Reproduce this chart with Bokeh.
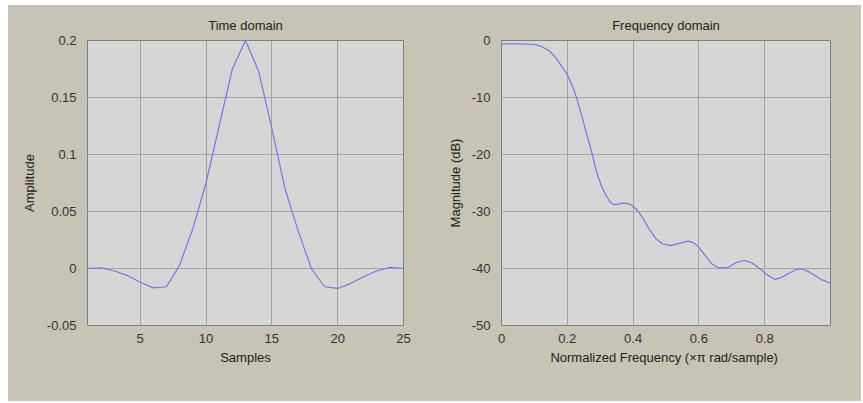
from bokeh.plotting import figure
from bokeh.layouts import row
from bokeh.models import FixedTicker, Range1d
from bokeh.embed import file_html
from bokeh.resources import INLINE

# ---- data ----
samples = list(range(1, 26))
amplitude = [0.0, 0.0005, -0.002, -0.006, -0.012, -0.017, -0.016, 0.003, 0.035, 0.075,
             0.125, 0.175, 0.2, 0.173, 0.123, 0.07, 0.033, 0.0, -0.016, -0.0175,
             -0.013, -0.007, -0.002, 0.001, 0.0]

freq = [0.0, 0.05, 0.10, 0.12, 0.145, 0.165, 0.185, 0.20, 0.215, 0.228, 0.24, 0.255,
        0.276, 0.29, 0.305, 0.318, 0.33, 0.34, 0.355, 0.37, 0.39, 0.41, 0.43, 0.45,
        0.47, 0.49, 0.515, 0.54, 0.567, 0.585, 0.60, 0.62, 0.64, 0.66, 0.69, 0.715,
        0.74, 0.76, 0.78, 0.805, 0.83, 0.85, 0.875, 0.90, 0.915, 0.935, 0.955, 0.975, 1.0]
mag_db = [-0.6, -0.6, -0.7, -1.0, -1.8, -3.0, -4.7, -6.0, -7.9, -10.0, -12.4, -15.6,
          -20.0, -23.3, -25.7, -27.2, -28.3, -28.8, -28.7, -28.5, -28.7, -29.6, -31.2, -33.2,
          -34.8, -35.7, -36.0, -35.6, -35.2, -35.5, -36.3, -37.8, -39.2, -39.9, -39.8, -38.9,
          -38.6, -39.0, -39.8, -41.0, -41.9, -41.6, -40.8, -40.1, -40.1, -40.6, -41.3, -42.0, -42.6]

t_xticks = [5, 10, 15, 20, 25]
t_yticks = [-0.05, 0, 0.05, 0.1, 0.15, 0.2]
t_ylabels = ["-0.05", "0", "0.05", "0.1", "0.15", "0.2"]
f_xticks = [0, 0.2, 0.4, 0.6, 0.8]
f_xlabels = ["0", "0.2", "0.4", "0.6", "0.8"]
f_yticks = [-50, -40, -30, -20, -10, 0]
f_ylabels = ["-50", "-40", "-30", "-20", "-10", "0"]

# ---- styles ----
OUTER = "#c7c3b5"
PLOT_BG = "#d6d6d6"
GRID = "#a3a3a3"
LINE = "#7878da"
TEXT = "#222222"
FONT = "Liberation Sans"
FS = "13px"


def style(p, xlabel, ylabel, ylab_standoff):
    p.background_fill_color = PLOT_BG
    p.border_fill_color = OUTER
    p.outline_line_color = "#808080"
    p.title.align = "center"
    p.title.text_font = FONT
    p.title.text_font_size = FS
    p.title.text_font_style = "normal"
    p.title.text_color = TEXT
    p.title.standoff = 15
    for ax in (p.xaxis[0], p.yaxis[0]):
        ax.axis_line_color = None
        ax.major_tick_line_color = None
        ax.minor_tick_line_color = None
        ax.major_label_text_font = FONT
        ax.major_label_text_font_size = FS
        ax.major_label_text_color = "#333333"
        ax.axis_label_text_font = FONT
        ax.axis_label_text_font_size = FS
        ax.axis_label_text_font_style = "normal"
        ax.axis_label_text_color = TEXT
    p.xaxis.axis_label = xlabel
    p.yaxis.axis_label = ylabel
    p.xaxis.major_label_standoff = 2
    p.yaxis.major_label_standoff = 5
    p.xaxis.axis_label_standoff = 4
    p.yaxis.axis_label_standoff = ylab_standoff
    p.grid.grid_line_color = GRID
    p.grid.grid_line_width = 1


p1 = figure(width=422, height=396, output_backend="svg", toolbar_location=None,
            title="Time domain", x_range=Range1d(1, 25), y_range=Range1d(-0.05, 0.2),
            min_border_left=79, min_border_right=27, min_border_top=35, min_border_bottom=75)
style(p1, "Samples", "Amplitude", 7)
p1.xaxis.ticker = FixedTicker(ticks=t_xticks)
p1.yaxis.ticker = FixedTicker(ticks=t_yticks)
p1.yaxis.major_label_overrides = {v: s for v, s in zip(t_yticks, t_ylabels)}
p1.line(samples, amplitude, line_color=LINE, line_width=1.2)

p2 = figure(width=431, height=396, output_backend="svg", toolbar_location=None,
            title="Frequency domain", x_range=Range1d(0, 1), y_range=Range1d(-50, 0),
            min_border_left=71, min_border_right=31, min_border_top=35, min_border_bottom=76)
style(p2, "Normalized Frequency  (\u00d7\u03c0 rad/sample)", "Magnitude (dB)", 6)
p2.xaxis.ticker = FixedTicker(ticks=f_xticks)
p2.yaxis.ticker = FixedTicker(ticks=f_yticks)
p2.xaxis.major_label_overrides = {v: s for v, s in zip(f_xticks, f_xlabels)}
p2.yaxis.major_label_overrides = {v: s for v, s in zip(f_yticks, f_ylabels)}
p2.line(freq, mag_db, line_color=LINE, line_width=1.2)

layout = row(p1, p2, spacing=0, styles={"background-color": OUTER})
layout.margin = (5, 0, 0, 8)

open("out.html", "w").write(file_html(layout, INLINE))
